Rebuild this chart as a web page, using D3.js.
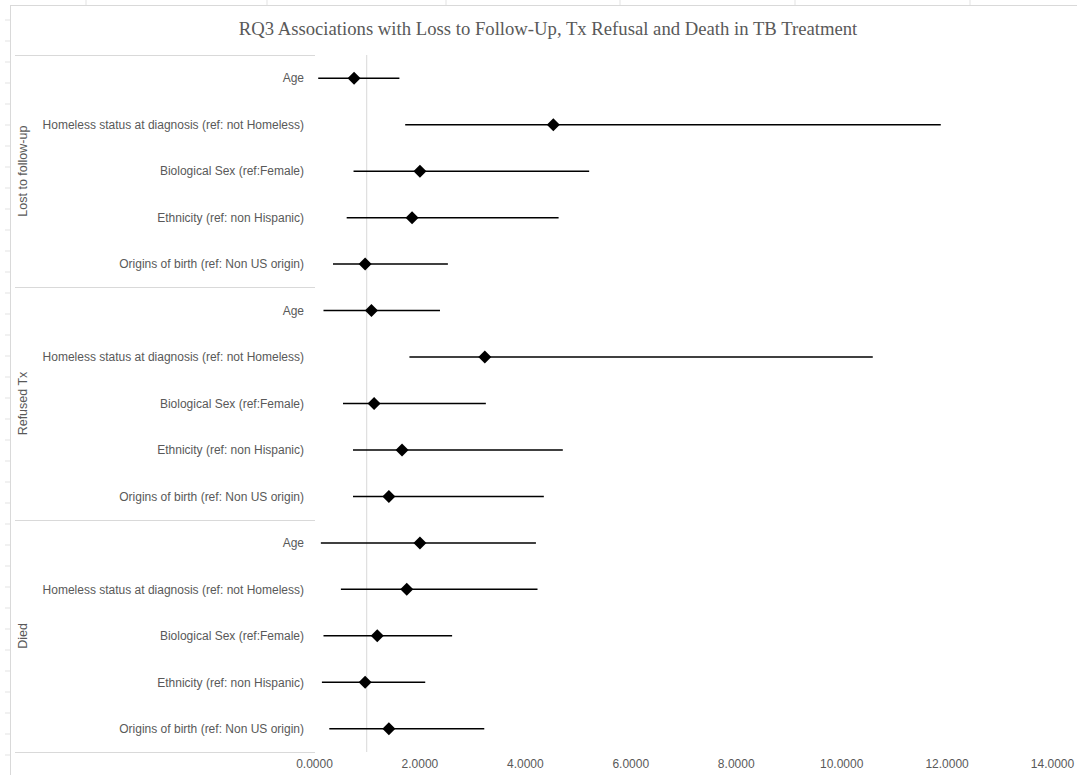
<!DOCTYPE html>
<html>
<head>
<meta charset="utf-8">
<script src="https://cdn.jsdelivr.net/npm/d3@7"></script>
<style>
  body { margin: 0; background: #fff; }
  svg { display: block; }
  .tick text { font-family: "Liberation Sans", Arial, sans-serif; font-size: 12px; fill: #595959; }
</style>
</head>
<body>
<svg id="chart" width="1077" height="775"></svg>
<script>
// groups and row labels (top to bottom)
const groups = ['Lost to follow-up', 'Refused Tx', 'Died'];
const variables = [
  'Age',
  'Homeless status at diagnosis (ref: not Homeless)',
  'Biological Sex (ref:Female)',
  'Ethnicity (ref: non Hispanic)',
  'Origins of birth (ref: Non US origin)'
];
// odds ratio estimates and CI bounds, per group, in variable order
const estimate = [
  [0.76, 4.54, 2.01, 1.86, 0.97],
  [1.09, 3.24, 1.14, 1.67, 1.42],
  [2.01, 1.76, 1.20, 0.97, 1.42]
];
const lower = [
  [0.08, 1.73, 0.75, 0.62, 0.36],
  [0.18, 1.81, 0.55, 0.74, 0.74],
  [0.13, 0.51, 0.18, 0.15, 0.29]
];
const upper = [
  [1.62, 11.89, 5.22, 4.64, 2.54],
  [2.39, 10.60, 3.26, 4.72, 4.36],
  [4.21, 4.24, 2.62, 2.11, 3.23]
];
const xTicks = [0, 2, 4, 6, 8, 10, 12, 14];
const refValue = 1;
const title = 'RQ3 Associations with Loss to Follow-Up, Tx Refusal and Death in TB Treatment';

const rows = [];
groups.forEach((g, gi) => {
  variables.forEach((v, vi) => {
    rows.push({ key: gi + '-' + vi, group: g, label: v,
      est: estimate[gi][vi], lo: lower[gi][vi], hi: upper[gi][vi] });
  });
});

const svg = d3.select('#chart');
const plot = { left: 314, right: 1052, top: 55, bottom: 752 };
const grey = '#d9d9d9';
const textGrey = '#595959';

// spreadsheet grid peeking around the chart
const bg = svg.append('g');
[86, 267, 446, 620, 795, 970].forEach(x => {
  bg.append('line').attr('x1', x).attr('x2', x).attr('y1', 0).attr('y2', 6)
    .attr('stroke', '#e3e3e3');
});
d3.range(20, 775, 21).forEach(y => {
  bg.append('line').attr('x1', 5).attr('x2', 10).attr('y1', y).attr('y2', y)
    .attr('stroke', '#e3e3e3');
});
// chart border
svg.append('rect')
  .attr('x', 10.5).attr('y', 5.5).attr('width', 1100).attr('height', 800)
  .attr('fill', '#fff').attr('stroke', grey);

const x = d3.scaleLinear().domain([0, 14]).range([plot.left, plot.right]);
const y = d3.scaleBand().domain(rows.map(r => r.key)).range([plot.top, plot.bottom]);
const yc = k => y(k) + y.bandwidth() / 2;

// title
svg.append('text')
  .attr('x', 548).attr('y', 35)
  .attr('text-anchor', 'middle')
  .attr('font-family', '"Liberation Serif", "Times New Roman", serif')
  .attr('font-size', 18.7)
  .attr('fill', textGrey)
  .text(title);

// reference line at OR = 1
svg.append('line')
  .attr('x1', x(refValue)).attr('x2', x(refValue))
  .attr('y1', plot.top).attr('y2', plot.bottom)
  .attr('stroke', grey).attr('stroke-width', 1);

// group separators
const sepY = [plot.top];
groups.forEach((g, gi) => {
  const last = rows.filter(r => r.group === g).pop();
  sepY.push(y(last.key) + y.bandwidth());
});
svg.selectAll('.sep').data(sepY).enter().append('line')
  .attr('class', 'sep')
  .attr('x1', 15).attr('x2', 315)
  .attr('y1', d => Math.round(d) + 0.5).attr('y2', d => Math.round(d) + 0.5)
  .attr('stroke', grey);

// row labels
svg.selectAll('.rowlab').data(rows).enter().append('text')
  .attr('class', 'rowlab')
  .attr('x', 304).attr('y', r => yc(r.key))
  .attr('dy', '0.35em')
  .attr('text-anchor', 'end')
  .attr('font-family', '"Liberation Sans", Arial, sans-serif')
  .attr('font-size', 12)
  .attr('fill', textGrey)
  .text(r => r.label);

// group labels (rotated)
groups.forEach(g => {
  const rs = rows.filter(r => r.group === g);
  const cy = d3.mean(rs, r => yc(r.key));
  svg.append('text')
    .attr('transform', `translate(23, ${cy}) rotate(-90)`)
    .attr('text-anchor', 'middle')
    .attr('dy', '0.35em')
    .attr('font-family', '"Liberation Sans", Arial, sans-serif')
    .attr('font-size', 12.5)
    .attr('fill', textGrey)
    .text(g);
});

// x axis
const xAxis = svg.append('g')
  .attr('transform', `translate(0, ${plot.bottom + 4})`)
  .call(d3.axisBottom(x).tickValues(xTicks).tickSize(0).tickFormat(d3.format('.4f')));
xAxis.select('.domain').remove();

// confidence intervals
svg.selectAll('.ci').data(rows).enter().append('line')
  .attr('class', 'ci')
  .attr('x1', r => x(r.lo)).attr('x2', r => x(r.hi))
  .attr('y1', r => yc(r.key)).attr('y2', r => yc(r.key))
  .attr('stroke', '#000').attr('stroke-width', 1.5);

// point estimates
svg.selectAll('.est').data(rows).enter().append('path')
  .attr('class', 'est')
  .attr('transform', r => `translate(${x(r.est)}, ${yc(r.key)})`)
  .attr('d', 'M0,-6.5L6.5,0L0,6.5L-6.5,0Z')
  .attr('fill', '#000');
</script>
</body>
</html>
